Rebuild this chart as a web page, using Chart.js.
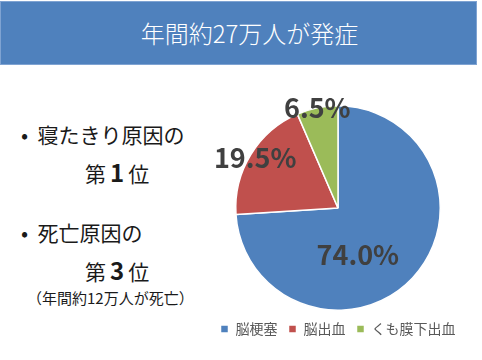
<!DOCTYPE html>
<html lang="ja">
<head>
<meta charset="utf-8">
<script src="https://cdn.jsdelivr.net/npm/chart.js@4"></script>
<style>
  html, body { margin: 0; padding: 0; background: #fff; }
  body { width: 482px; height: 360px; position: relative; overflow: hidden;
         font-family: "Noto Sans CJK JP", "Noto Sans", sans-serif; color: #1a1a1a; }
  .title { position: absolute; left: 0; top: 1px; width: 477px; height: 64px;
           background: #4F81BD; border: 1px solid #7fa3d2; box-sizing: border-box;
           color: #fff; font-size: 24px; font-weight: 300; line-height: 62px;
           text-align: center; padding-left: 22px; }
  .t { position: absolute; white-space: nowrap; line-height: 1; }
  .b { font-size: 21px; }
  .big { font-weight: 700; font-size: 24px; margin: 0 4px; }
  .note { font-size: 15px; }
  #wrap { position: absolute; left: 198px; top: 87px; width: 280px; height: 270px; }
</style>
</head>
<body>
<div class="title">年間約27万人が発症</div>
<div class="t b" style="left:21px; top:124px;">•&nbsp;&nbsp;寝たきり原因の</div>
<div class="t b" style="left:85px; top:160px;">第<span class="big">1</span>位</div>
<div class="t b" style="left:21px; top:222px;">•&nbsp;&nbsp;死亡原因の</div>
<div class="t b" style="left:85px; top:258px;">第<span class="big">3</span>位</div>
<div class="t note" style="left:27px; top:290px;">（年間約12万人が死亡）</div>
<div id="wrap"><canvas id="pie"></canvas></div>
<script>
// values
const categories = ['脳梗塞', '脳出血', 'くも膜下出血'];
const shares = [74.0, 19.5, 6.5];
const sliceColors = ['#4F81BD', '#C0504D', '#9BBB59'];

// where each percentage sits: fraction of radius and angle shift (deg) off the slice middle
const labelRadius = [0.5, 0.95, 1.0];
const labelShift = [24, 0, 0];

const pctLabels = {
  id: 'pctLabels',
  afterDatasetsDraw(chart) {
    const ctx = chart.ctx;
    const meta = chart.getDatasetMeta(0);
    ctx.save();
    ctx.font = 'bold 27px "Noto Sans CJK JP", "Open Sans", sans-serif';
    ctx.fillStyle = '#404040';
    ctx.textAlign = 'center';
    ctx.textBaseline = 'middle';
    meta.data.forEach((arc, i) => {
      const p = arc.getProps(['x', 'y', 'startAngle', 'endAngle', 'outerRadius'], true);
      const mid = (p.startAngle + p.endAngle) / 2 + labelShift[i] * Math.PI / 180;
      const r = p.outerRadius * labelRadius[i];
      ctx.fillText(shares[i].toFixed(1) + '%', p.x + Math.cos(mid) * r, p.y + Math.sin(mid) * r);
    });
    ctx.restore();
  }
};

new Chart(document.getElementById('pie').getContext('2d'), {
  type: 'pie',
  data: {
    labels: categories,
    datasets: [{
      data: shares,
      backgroundColor: sliceColors,
      borderColor: '#fff',
      borderWidth: 1.5
    }]
  },
  options: {
    responsive: true,
    maintainAspectRatio: false,
    animation: false,
    layout: { padding: { top: 18, bottom: 11 } },
    plugins: {
      legend: {
        position: 'bottom',
        labels: {
          boxWidth: 8,
          boxHeight: 8,
          padding: 11,
          color: '#595959',
          font: { size: 14, family: '"Noto Sans CJK JP", sans-serif' }
        }
      },
      tooltip: { enabled: false }
    }
  },
  plugins: [pctLabels]
});
</script>
</body>
</html>
